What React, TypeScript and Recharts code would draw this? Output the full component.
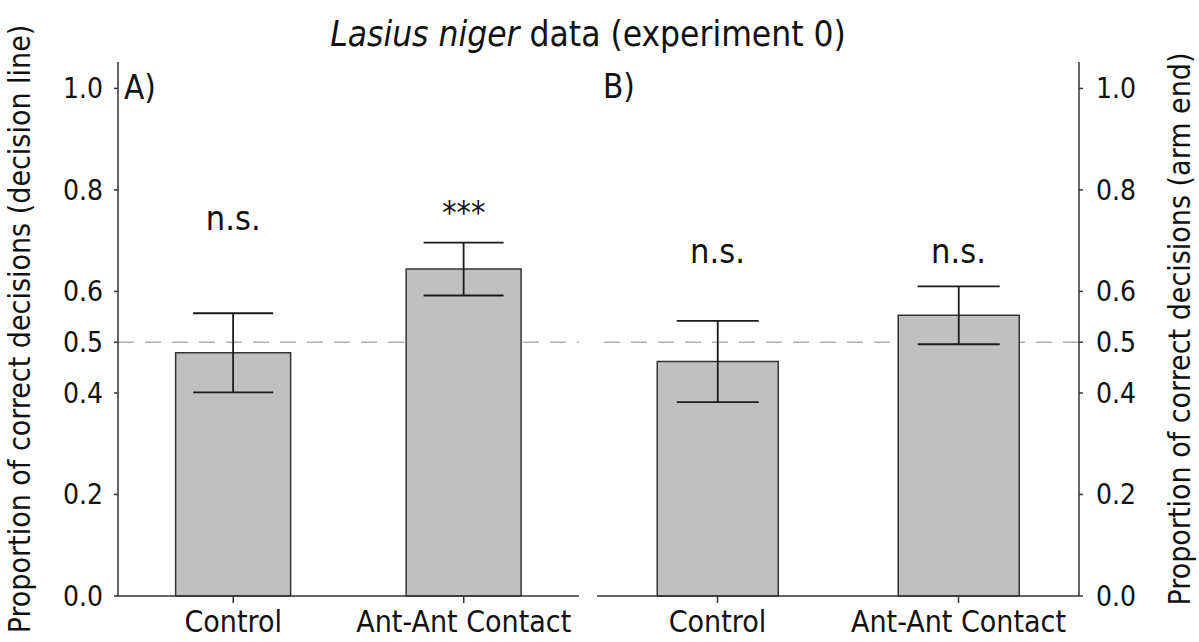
import { BarChart, Bar, XAxis, YAxis, ErrorBar, ReferenceLine, ReferenceDot } from 'recharts';

const categories = ['Control', 'Ant-Ant Contact'];
const yTicks = [0, 0.2, 0.4, 0.5, 0.6, 0.8, 1.0];
const chanceLevel = 0.5;

// A) decision line
const decisionLineMean = [0.479, 0.644];
const decisionLineErr = [0.078, 0.052];
const decisionLineSig = ['n.s.', '***'];

// B) arm end
const armEndMean = [0.462, 0.553];
const armEndErr = [0.08, 0.057];
const armEndSig = ['n.s.', 'n.s.'];

const FONT = "'DejaVu Sans Condensed', 'DejaVu Sans', sans-serif";
const TEXT = '#111';
const FRAME = '#333';
const Y_TOP = 1.052;
const SIG_Y_A = 0.745;
const SIG_Y_B = 0.68;

const dataA = categories.map((cat, i) => ({ cat, mean: decisionLineMean[i], err: decisionLineErr[i], sig: decisionLineSig[i] }));
const dataB = categories.map((cat, i) => ({ cat, mean: armEndMean[i], err: armEndErr[i], sig: armEndSig[i] }));

const axisLine = { stroke: FRAME, strokeWidth: 1.5 };
const tickLine = { stroke: FRAME, strokeWidth: 1.5 };
const fmt = (v: number) => v.toFixed(1);

const sigLabel = (text: string, size: number) => ({
    value: text,
    position: 'center' as const,
    fontSize: size,
    fill: TEXT,
    fontFamily: FONT,
});

const App = () => {
    return (
        <div style={{ position: 'absolute', left: 0, top: 0, width: 1199, height: 642, background: '#fff', fontFamily: FONT }}>
            {/* panel A */}
            <div style={{ position: 'absolute', left: 0, top: 0 }}>
                <BarChart width={590} height={642} data={dataA} margin={{ top: 62, right: 11, bottom: 0, left: 0 }} barCategoryGap="25%">
                    <XAxis xAxisId="bottom" dataKey="cat" height={46} interval={0} tickSize={7} tickMargin={8}
                        axisLine={axisLine} tickLine={tickLine} tick={{ fontSize: 30, fill: TEXT }} />
                    <XAxis xAxisId="top" orientation="top" dataKey="cat" height={0} tick={false} tickLine={false} axisLine={axisLine} />
                    <YAxis yAxisId="l" width={118} domain={[0, Y_TOP]} ticks={yTicks} tickFormatter={fmt}
                        tickSize={4} tickMargin={11} axisLine={axisLine} tickLine={tickLine}
                        tick={{ fontSize: 28, fill: TEXT }}
                        label={{ value: 'Proportion of correct decisions (decision line)', angle: -90, position: 'insideLeft', offset: 19, fontSize: 30, fill: TEXT, style: { textAnchor: 'middle' } }} />
                    <YAxis yAxisId="r" orientation="right" width={0} domain={[0, Y_TOP]} tick={false} tickLine={false} axisLine={axisLine} />
                    <ReferenceLine xAxisId="bottom" yAxisId="l" y={chanceLevel} stroke="#b0b0b0" strokeWidth={1.5} strokeDasharray="16 11" zIndex={-10} />
                    <Bar xAxisId="bottom" yAxisId="l" dataKey="mean" fill="#c0c0c0" stroke={FRAME} strokeWidth={1.5} isAnimationActive={false}>
                        <ErrorBar dataKey="err" width={40} stroke="#1a1a1a" strokeWidth={1.8} direction="y" />
                    </Bar>
                    {dataA.map((d) => (
                        <ReferenceDot key={d.cat} xAxisId="bottom" yAxisId="l" x={d.cat} y={d.sig === '***' ? SIG_Y_A + 0.012 : SIG_Y_A} r={0} fill="none" stroke="none"
                            label={sigLabel(d.sig, d.sig === '***' ? 32 : 34)} />
                    ))}
                </BarChart>
            </div>
            {/* panel B */}
            <div style={{ position: 'absolute', left: 590, top: 0 }}>
                <BarChart width={609} height={642} data={dataB} margin={{ top: 62, right: 0, bottom: 0, left: 7 }} barCategoryGap="25%">
                    <XAxis xAxisId="bottom" dataKey="cat" height={46} interval={0} tickSize={7} tickMargin={8}
                        axisLine={axisLine} tickLine={tickLine} tick={{ fontSize: 30, fill: TEXT }} />
                    <XAxis xAxisId="top" orientation="top" dataKey="cat" height={0} tick={false} tickLine={false} axisLine={axisLine} />
                    <YAxis yAxisId="l" width={0} domain={[0, Y_TOP]} tick={false} tickLine={false} axisLine={axisLine} />
                    <YAxis yAxisId="r" orientation="right" width={120} domain={[0, Y_TOP]} ticks={yTicks} tickFormatter={fmt}
                        tickSize={4} tickMargin={13} axisLine={axisLine} tickLine={tickLine}
                        tick={{ fontSize: 28, fill: TEXT }}
                        label={{ value: 'Proportion of correct decisions (arm end)', angle: -90, position: 'insideRight', offset: 20, fontSize: 30, fill: TEXT, style: { textAnchor: 'middle' } }} />
                    <ReferenceLine xAxisId="bottom" yAxisId="r" y={chanceLevel} stroke="#b0b0b0" strokeWidth={1.5} strokeDasharray="16 11" zIndex={-10} />
                    <Bar xAxisId="bottom" yAxisId="r" dataKey="mean" fill="#c0c0c0" stroke={FRAME} strokeWidth={1.5} isAnimationActive={false}>
                        <ErrorBar dataKey="err" width={41} stroke="#1a1a1a" strokeWidth={1.8} direction="y" />
                    </Bar>
                    {dataB.map((d) => (
                        <ReferenceDot key={d.cat} xAxisId="bottom" yAxisId="r" x={d.cat} y={SIG_Y_B} r={0} fill="none" stroke="none"
                            label={sigLabel(d.sig, 34)} />
                    ))}
                </BarChart>
            </div>
            {/* title and panel letters */}
            <svg width={1199} height={642} style={{ position: 'absolute', left: 0, top: 0, pointerEvents: 'none' }}>
                <text x={588} y={46} textAnchor="middle" fontSize={35} fill={TEXT}>
                    <tspan fontStyle="italic">Lasius niger</tspan> data (experiment 0)
                </text>
                <text x={124} y={99} fontSize={33} fill={TEXT}>A)</text>
                <text x={603} y={98} fontSize={33} fill={TEXT}>B)</text>
            </svg>
        </div>
    );
};

export default App;
